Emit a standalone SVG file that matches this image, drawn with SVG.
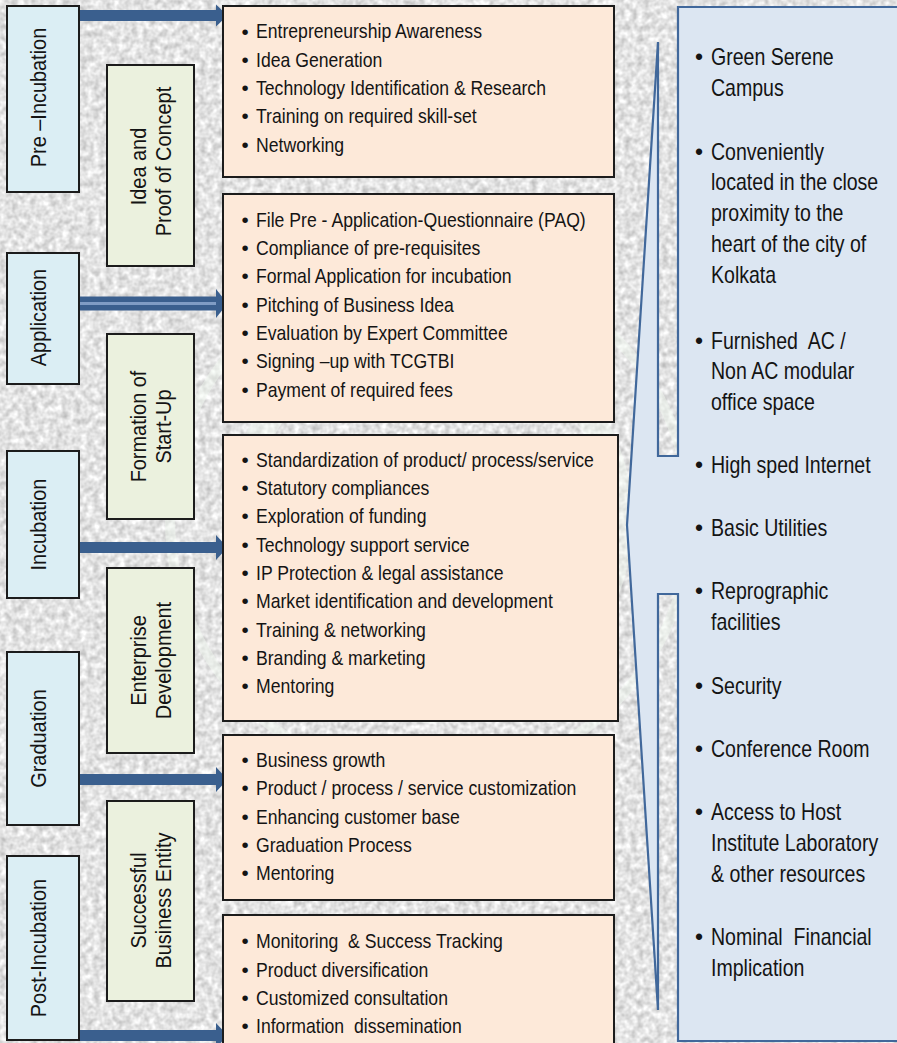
<svg xmlns="http://www.w3.org/2000/svg" width="897" height="1043" viewBox="0 0 897 1043">
<style>
.stage{fill:#dbeef4;stroke:#1c1c1c;stroke-width:2}
.phase{fill:#ebf1de;stroke:#1c1c1c;stroke-width:2}
.act{fill:#fde9d9;stroke:#1c1c1c;stroke-width:2}
.panel{fill:#dce6f2;stroke:#41689b;stroke-width:2.2;stroke-linejoin:miter}
text{font-family:"Liberation Sans",Arial,sans-serif;fill:#141414;white-space:pre}
.t{font-size:20.5px}
.b{font-size:20.5px;text-anchor:middle}
.lab{font-size:22.5px;text-anchor:middle}
.r{font-size:23px}
.rb{font-size:23px;text-anchor:middle}
.arr{fill:#3a5f8e}
</style>
<defs>
<filter id="grain" x="0" y="0" width="100%" height="100%" color-interpolation-filters="sRGB">
<feTurbulence type="fractalNoise" baseFrequency="0.16" numOctaves="2" seed="4" result="n"/>
<feColorMatrix in="n" type="matrix" values="0.38 0 0 0 0.7  0.38 0 0 0 0.7  0.38 0 0 0 0.7  0 0 0 0 1"/>
</filter>
</defs>
<rect x="0" y="0" width="897" height="1043" filter="url(#grain)"/>
<g opacity="0.45" fill="none" stroke="#f3fbf2">
<circle cx="430" cy="520" r="190" stroke-width="26"/>
<circle cx="430" cy="520" r="260" stroke-width="10"/>
</g>

<g id="connectors">
<g id="arrow-pre">
<rect class="arr" x="78" y="10" width="140" height="11"/>
<polygon class="arr" points="216,4.5 227.5,15.5 216,26.5"/>
</g>
<g id="arrow-app">
<rect class="arr" x="78" y="296.5" width="140" height="14"/>
<rect x="78" y="302" width="138" height="3" fill="#7f9cc4"/>
<polygon class="arr" points="216,289 227.5,303.5 216,318"/>
</g>
<g id="arrow-inc">
<rect class="arr" x="78" y="542" width="140" height="11"/>
<polygon class="arr" points="216,535 227.5,547.5 216,560"/>
</g>
<g id="arrow-grad">
<rect class="arr" x="78" y="774" width="140" height="11"/>
<polygon class="arr" points="216,767 227.5,779.5 216,792"/>
</g>
<g id="arrow-post">
<rect class="arr" x="78" y="1030" width="140" height="11"/>
<polygon class="arr" points="216,1023 227.5,1035.5 216,1048"/>
</g>
</g>

<g id="stage-pre">
<rect class="stage" x="7" y="6" width="72" height="186"/>
<text class="lab" transform="translate(45.5 97.5) rotate(-90) scale(0.885 1)">Pre –Incubation</text>
</g>
<g id="stage-app">
<rect class="stage" x="7" y="253" width="72" height="131"/>
<text class="lab" transform="translate(45.5 317.5) rotate(-90) scale(0.885 1)">Application</text>
</g>
<g id="stage-inc">
<rect class="stage" x="7" y="451" width="72" height="147"/>
<text class="lab" transform="translate(45.5 524.5) rotate(-90) scale(0.885 1)">Incubation</text>
</g>
<g id="stage-grad">
<rect class="stage" x="7" y="652" width="72" height="173"/>
<text class="lab" transform="translate(45.5 738.5) rotate(-90) scale(0.885 1)">Graduation</text>
</g>
<g id="stage-post">
<rect class="stage" x="7" y="856" width="72" height="184"/>
<text class="lab" transform="translate(45.5 948) rotate(-90) scale(0.885 1)">Post-Incubation</text>
</g>

<g id="phase-idea">
<rect class="phase" x="107" y="65" width="87" height="201"/>
<text class="lab" transform="translate(146 166.5) rotate(-90) scale(0.885 1)">Idea and</text>
<text class="lab" transform="translate(170.5 161.5) rotate(-90) scale(0.885 1)">Proof of Concept</text>
</g>
<g id="phase-form">
<rect class="phase" x="107" y="334" width="87" height="185"/>
<text class="lab" transform="translate(146 426.5) rotate(-90) scale(0.885 1)">Formation of</text>
<text class="lab" transform="translate(170.5 426.5) rotate(-90) scale(0.885 1)">Start-Up</text>
</g>
<g id="phase-ent">
<rect class="phase" x="107" y="568" width="87" height="185"/>
<text class="lab" transform="translate(146 660.5) rotate(-90) scale(0.885 1)">Enterprise</text>
<text class="lab" transform="translate(170.5 660.5) rotate(-90) scale(0.885 1)">Development</text>
</g>
<g id="phase-succ">
<rect class="phase" x="107" y="801" width="87" height="200"/>
<text class="lab" transform="translate(146 900.5) rotate(-90) scale(0.885 1)">Successful</text>
<text class="lab" transform="translate(170.5 900.5) rotate(-90) scale(0.885 1)">Business Entity</text>
</g>

<g id="box-pre">
<rect class="act" x="223" y="6" width="391" height="171"/>
<text class="b" x="245" y="38.5">•</text><text class="b" x="245" y="66.8">•</text><text class="b" x="245" y="95.1">•</text><text class="b" x="245" y="123.4">•</text><text class="b" x="245" y="151.7">•</text>
<g transform="translate(256 0) scale(0.86 1)">
<text class="t" x="0" y="38.5">Entrepreneurship Awareness</text>
<text class="t" x="0" y="66.8">Idea Generation</text>
<text class="t" x="0" y="95.1">Technology Identification &amp; Research</text>
<text class="t" x="0" y="123.4">Training on required skill-set</text>
<text class="t" x="0" y="151.7">Networking</text>
</g>
</g>

<g id="box-app">
<rect class="act" x="223" y="194" width="391" height="228"/>
<text class="b" x="245" y="226.7">•</text><text class="b" x="245" y="255">•</text><text class="b" x="245" y="283.3">•</text><text class="b" x="245" y="311.7">•</text><text class="b" x="245" y="340">•</text><text class="b" x="245" y="368.3">•</text><text class="b" x="245" y="396.7">•</text>
<g transform="translate(256 0) scale(0.86 1)">
<text class="t" x="0" y="226.7">File Pre - Application-Questionnaire (PAQ)</text>
<text class="t" x="0" y="255">Compliance of pre-requisites</text>
<text class="t" x="0" y="283.3">Formal Application for incubation</text>
<text class="t" x="0" y="311.7">Pitching of Business Idea</text>
<text class="t" x="0" y="340">Evaluation by Expert Committee</text>
<text class="t" x="0" y="368.3">Signing –up with TCGTBI</text>
<text class="t" x="0" y="396.7">Payment of required fees</text>
</g>
</g>

<g id="box-inc">
<rect class="act" x="223" y="435" width="395" height="286"/>
<text class="b" x="245" y="466.7">•</text><text class="b" x="245" y="495">•</text><text class="b" x="245" y="523.3">•</text><text class="b" x="245" y="551.7">•</text><text class="b" x="245" y="580">•</text><text class="b" x="245" y="608.3">•</text><text class="b" x="245" y="636.7">•</text><text class="b" x="245" y="665">•</text><text class="b" x="245" y="693.3">•</text>
<g transform="translate(256 0) scale(0.86 1)">
<text class="t" x="0" y="466.7">Standardization of product/ process/service</text>
<text class="t" x="0" y="495">Statutory compliances</text>
<text class="t" x="0" y="523.3">Exploration of funding</text>
<text class="t" x="0" y="551.7">Technology support service</text>
<text class="t" x="0" y="580">IP Protection &amp; legal assistance</text>
<text class="t" x="0" y="608.3">Market identification and development</text>
<text class="t" x="0" y="636.7">Training &amp; networking</text>
<text class="t" x="0" y="665">Branding &amp; marketing</text>
<text class="t" x="0" y="693.3">Mentoring</text>
</g>
</g>

<g id="box-grad">
<rect class="act" x="223" y="735" width="391" height="165"/>
<text class="b" x="245" y="767">•</text><text class="b" x="245" y="795.3">•</text><text class="b" x="245" y="823.6">•</text><text class="b" x="245" y="851.9">•</text><text class="b" x="245" y="880.2">•</text>
<g transform="translate(256 0) scale(0.86 1)">
<text class="t" x="0" y="767">Business growth</text>
<text class="t" x="0" y="795.3">Product / process / service customization</text>
<text class="t" x="0" y="823.6">Enhancing customer base</text>
<text class="t" x="0" y="851.9">Graduation Process</text>
<text class="t" x="0" y="880.2">Mentoring</text>
</g>
</g>

<g id="box-post">
<rect class="act" x="223" y="915" width="391" height="140"/>
<text class="b" x="245" y="948.3">•</text><text class="b" x="245" y="976.6">•</text><text class="b" x="245" y="1004.9">•</text><text class="b" x="245" y="1033.2">•</text>
<g transform="translate(256 0) scale(0.86 1)">
<text class="t" x="0" y="948.3">Monitoring  &amp; Success Tracking</text>
<text class="t" x="0" y="976.6">Product diversification</text>
<text class="t" x="0" y="1004.9">Customized consultation</text>
<text class="t" x="0" y="1033.2">Information  dissemination</text>
</g>
</g>

<g id="facilities">
<path class="panel" d="M 678 7 H 905 V 1041 H 678 V 594 H 658 V 1010 L 627 525 L 658 42 V 456 H 678 Z"/>
<text class="rb" x="699" y="65">•</text>
<text class="rb" x="699" y="160">•</text>
<text class="rb" x="699" y="349">•</text>
<text class="rb" x="699" y="473">•</text>
<text class="rb" x="699" y="536">•</text>
<text class="rb" x="699" y="599">•</text>
<text class="rb" x="699" y="694">•</text>
<text class="rb" x="699" y="757">•</text>
<text class="rb" x="699" y="820">•</text>
<text class="rb" x="699" y="945">•</text>
<g transform="translate(711 0) scale(0.85 1)">
<text class="r" x="0" y="65">Green Serene</text>
<text class="r" x="0" y="96.5">Campus</text>
<text class="r" x="0" y="160">Conveniently</text>
<text class="r" x="0" y="190.5">located in the close</text>
<text class="r" x="0" y="221">proximity to the</text>
<text class="r" x="0" y="252">heart of the city of</text>
<text class="r" x="0" y="283">Kolkata</text>
<text class="r" x="0" y="349">Furnished  AC /</text>
<text class="r" x="0" y="379.5">Non AC modular</text>
<text class="r" x="0" y="410">office space</text>
<text class="r" x="0" y="473">High sped Internet</text>
<text class="r" x="0" y="536">Basic Utilities</text>
<text class="r" x="0" y="599">Reprographic</text>
<text class="r" x="0" y="630">facilities</text>
<text class="r" x="0" y="694">Security</text>
<text class="r" x="0" y="757">Conference Room</text>
<text class="r" x="0" y="820">Access to Host</text>
<text class="r" x="0" y="851">Institute Laboratory</text>
<text class="r" x="0" y="882">&amp; other resources</text>
<text class="r" x="0" y="945">Nominal  Financial</text>
<text class="r" x="0" y="976.5">Implication</text>
</g>
</g>
</svg>
